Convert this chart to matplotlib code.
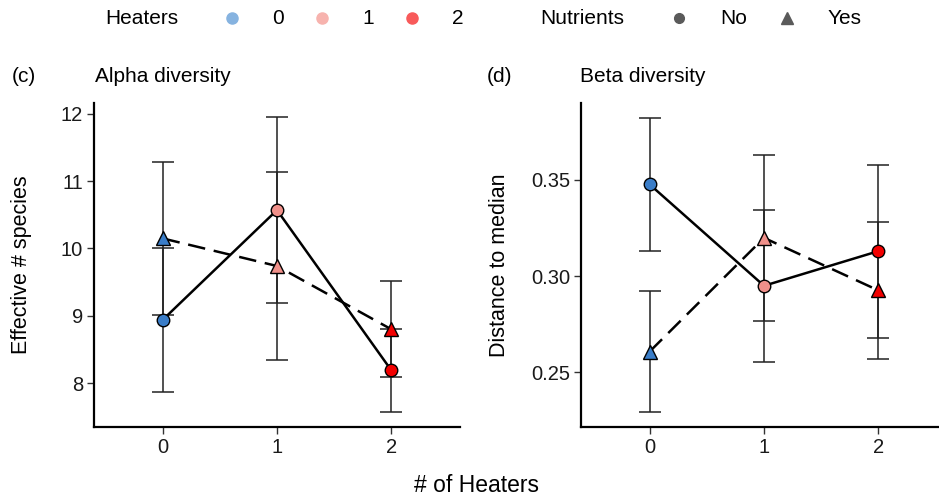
import matplotlib
matplotlib.use("Agg")
import matplotlib.pyplot as plt
from matplotlib.lines import Line2D

plt.rcParams["font.family"] = ["Liberation Sans", "DejaVu Sans"]

heaters = [0, 1, 2]
cores = ["#3a7dc8", "#f0908a", "#f20000"]
cores_leg = ["#86b3e0", "#f7b3ae", "#f85a5a"]

# Alpha diversity: média e erro (sem / com nutrientes)
alpha_nao = [8.94, 10.57, 8.19]
alpha_nao_err = [1.07, 1.375, 0.62]
alpha_sim = [10.15, 9.74, 8.80]
alpha_sim_err = [1.14, 1.40, 0.715]

# Beta diversity
beta_nao = [0.3477, 0.2950, 0.3130]
beta_nao_err = [0.0345, 0.0395, 0.0450]
beta_sim = [0.2608, 0.3199, 0.2926]
beta_sim_err = [0.0313, 0.0430, 0.0358]

fig = plt.figure(figsize=(9.39, 5.0), dpi=100)
ax1 = fig.add_axes([94 / 939, 73 / 500, 366 / 939, 324 / 500])
ax2 = fig.add_axes([581 / 939, 73 / 500, 358 / 939, 324 / 500])


def painel(ax, nao, nao_err, sim, sim_err):
    for y, e in [(nao, nao_err), (sim, sim_err)]:
        ax.errorbar(heaters, y, yerr=e, fmt="none", ecolor="#222222",
                    elinewidth=1.1, capsize=8, capthick=1.1, zorder=1)
    ax.plot(heaters, nao, "-", color="black", linewidth=1.8, zorder=2)
    ax.plot(heaters, sim, "-", color="black", linewidth=1.8, dashes=(7, 3.5), zorder=2)
    for x, y, c in zip(heaters, nao, cores):
        ax.plot(x, y, "o", color=c, markeredgecolor="black", markeredgewidth=1.0,
                markersize=9, zorder=3)
    for x, y, c in zip(heaters, sim, cores):
        ax.plot(x, y, "^", color=c, markeredgecolor="black", markeredgewidth=1.0,
                markersize=10.5, zorder=3)
    for lado in ["top", "right"]:
        ax.spines[lado].set_visible(False)
    for lado in ["left", "bottom"]:
        ax.spines[lado].set_linewidth(1.6)
    ax.set_xticks(heaters)
    ax.tick_params(labelsize=14.5, length=5, width=1.0, pad=3,
                   colors="#333333", labelcolor="#1a1a1a")


painel(ax1, alpha_nao, alpha_nao_err, alpha_sim, alpha_sim_err)
ax1.set_xlim(-0.6, 2.6)
ax1.set_ylim(7.35, 12.16)
ax1.set_yticks([8, 9, 10, 11, 12])
ax1.set_ylabel("Effective # species", fontsize=15.5)
ax1.yaxis.set_label_coords(-0.17, 0.5)

painel(ax2, beta_nao, beta_nao_err, beta_sim, beta_sim_err)
ax2.set_xlim(-0.6, 2.53)
ax2.set_ylim(0.2216, 0.390)
ax2.set_yticks([0.25, 0.30, 0.35])
ax2.set_yticklabels(["0.25", "0.30", "0.35"])
ax2.set_ylabel("Distance to median", fontsize=15.5)
ax2.yaxis.set_label_coords(-0.198, 0.5)

fig.text(12 / 939, 1 - 76 / 500, "(c)", fontsize=15, va="center")
fig.text(95 / 939, 1 - 76 / 500, "Alpha diversity", fontsize=15, va="center")
fig.text(487 / 939, 1 - 76 / 500, "(d)", fontsize=15, va="center")
fig.text(580 / 939, 1 - 76 / 500, "Beta diversity", fontsize=15, va="center")
fig.text(476 / 939, 1 - 485 / 500, "# of Heaters", fontsize=16.5, ha="center", va="center")

# legenda no topo
y_leg = 1 - 18 / 500
fig.text(105 / 939, y_leg, "Heaters", fontsize=15, va="center")
for xm, xt, c, lab in zip([232, 322, 412], [272, 362, 452], cores_leg, ["0", "1", "2"]):
    fig.add_artist(Line2D([xm / 939], [y_leg], marker="o", color=c, markersize=8,
                          linestyle="none", transform=fig.transFigure))
    fig.text(xt / 939, y_leg, lab, fontsize=15, va="center")
fig.text(540 / 939, y_leg, "Nutrients", fontsize=15, va="center")
fig.add_artist(Line2D([679 / 939], [y_leg], marker="o", color="#5a5a5a", markersize=7,
                      linestyle="none", transform=fig.transFigure))
fig.text(720 / 939, y_leg, "No", fontsize=15, va="center")
fig.add_artist(Line2D([787 / 939], [y_leg], marker="^", color="#5a5a5a", markersize=9,
                      linestyle="none", transform=fig.transFigure))
fig.text(828 / 939, y_leg, "Yes", fontsize=15, va="center")

fig.savefig("out.png", dpi=100)
